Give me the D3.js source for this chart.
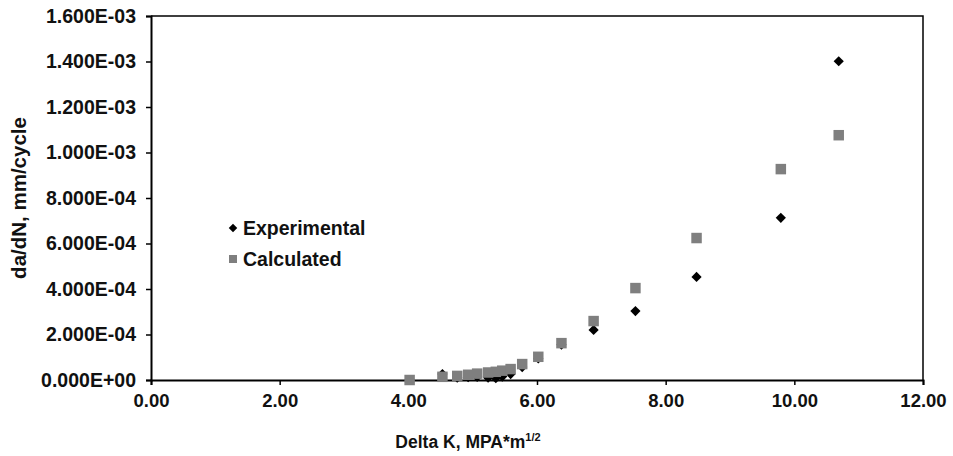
<!DOCTYPE html>
<html>
<head>
<meta charset="utf-8">
<script src="https://cdn.jsdelivr.net/npm/d3@7"></script>
<style>
  html, body { margin: 0; padding: 0; background: #fff; }
  svg { display: block; font-family: Arial, "Liberation Sans", sans-serif; }
</style>
</head>
<body>
<svg id="chart" width="953" height="456"></svg>
<script>
// Stress intensity range, MPa*m^1/2
const deltaK = [4.02, 4.53, 4.76, 4.93, 5.07, 5.24, 5.36, 5.46, 5.59, 5.77, 6.02, 6.38, 6.88, 7.53, 8.48, 9.79, 10.69];
// Crack growth rate, mm/cycle
const experimental = [0, 2.6e-5, 1.0e-5, 1.2e-5, 1.4e-5, 1.0e-5, 8e-6, 1.5e-5, 2.6e-5, 5.7e-5, 9.5e-5, 1.55e-4, 2.2e-4, 3.03e-4, 4.53e-4, 7.13e-4, 1.401e-3];
const calculated   = [0, 1.4e-5, 1.8e-5, 2.3e-5, 2.8e-5, 3.3e-5, 3.6e-5, 4.1e-5, 4.8e-5, 7.0e-5, 1.02e-4, 1.62e-4, 2.59e-4, 4.04e-4, 6.24e-4, 9.27e-4, 1.076e-3];
const xTicks = [0, 2, 4, 6, 8, 10, 12];
const yTicks = [0, 2e-4, 4e-4, 6e-4, 8e-4, 1e-3, 1.2e-3, 1.4e-3, 1.6e-3];
const seriesNames = ["Experimental", "Calculated"];

const svg = d3.select("#chart");
const plotL = 151, plotR = 923, plotT = 16, plotB = 380;

const x = d3.scaleLinear().domain([0, 12]).range([plotL, plotR]);
const y = d3.scaleLinear().domain([0, 1.6e-3]).range([plotB, plotT]);

// scientific label like 1.600E-03
function sci(v) {
  if (v === 0) return "0.000E+00";
  const e = Math.floor(Math.log10(v) + 1e-9);
  const m = v / Math.pow(10, e);
  const sign = e < 0 ? "-" : "+";
  return m.toFixed(3) + "E" + sign + String(Math.abs(e)).padStart(2, "0");
}

// plot frame (top and right edges)
svg.append("path")
  .attr("d", `M${plotL},${plotT}H${plotR}V${plotB}`)
  .attr("fill", "none").attr("stroke", "#000").attr("stroke-width", 1.5);

// y axis
const yAxis = svg.append("g")
  .attr("transform", `translate(${plotL},0)`)
  .call(d3.axisLeft(y).tickValues(yTicks).tickFormat(sci).tickSize(5).tickPadding(10));
yAxis.select(".domain").attr("stroke-width", 2);
yAxis.selectAll(".tick line").attr("stroke-width", 1.5);
yAxis.selectAll(".tick text")
  .attr("font-size", 19.5).attr("font-weight", "bold").attr("fill", "#111")
  .attr("font-family", "Arial, 'Liberation Sans', sans-serif");

// x axis
const xAxis = svg.append("g")
  .attr("transform", `translate(0,${plotB})`)
  .call(d3.axisBottom(x).tickValues(xTicks).tickFormat(d3.format(".2f")).tickSize(5).tickPadding(9));
xAxis.select(".domain").attr("stroke-width", 2);
xAxis.selectAll(".tick line").attr("stroke-width", 1.5);
xAxis.selectAll(".tick text")
  .attr("font-size", 18.5).attr("font-weight", "bold").attr("fill", "#111")
  .attr("font-family", "Arial, 'Liberation Sans', sans-serif");

// axis titles
const xt = svg.append("text")
  .attr("x", 468).attr("y", 448)
  .attr("text-anchor", "middle")
  .attr("font-size", 17.5).attr("font-weight", "bold").attr("fill", "#111");
xt.append("tspan").text("Delta K, MPA*m");
xt.append("tspan").attr("font-size", 11).attr("dy", -7).text("1/2");

svg.append("text")
  .attr("transform", `translate(26,${(plotT + plotB) / 2}) rotate(-90)`)
  .attr("text-anchor", "middle")
  .attr("font-size", 20.5).attr("font-weight", "bold").attr("fill", "#111")
  .text("da/dN, mm/cycle");

// markers
const diamond = d3.symbol().type(d3.symbolSquare).size(52);
const square = d3.symbol().type(d3.symbolSquare).size(110);

svg.append("g").selectAll("path")
  .data(deltaK.map((k, i) => [k, experimental[i]]))
  .join("path")
  .attr("d", diamond)
  .attr("transform", d => `translate(${x(d[0])},${y(d[1])}) rotate(45)`)
  .attr("fill", "#000");

svg.append("g").selectAll("path")
  .data(deltaK.map((k, i) => [k, calculated[i]]))
  .join("path")
  .attr("d", square)
  .attr("transform", d => `translate(${x(d[0])},${y(d[1])})`)
  .attr("fill", "#7f7f7f");

// legend
const legend = svg.append("g");
const legendRows = [
  { name: seriesNames[0], sym: d3.symbol().type(d3.symbolSquare).size(36), rot: 45, fill: "#000", cy: 228 },
  { name: seriesNames[1], sym: d3.symbol().type(d3.symbolSquare).size(64), rot: 0, fill: "#7f7f7f", cy: 259 }
];
legendRows.forEach(r => {
  legend.append("path")
    .attr("d", r.sym)
    .attr("transform", `translate(233,${r.cy}) rotate(${r.rot})`)
    .attr("fill", r.fill);
  legend.append("text")
    .attr("x", 243).attr("y", r.cy + 7)
    .attr("font-size", 19.5).attr("font-weight", "bold").attr("fill", "#111")
    .text(r.name);
});
</script>
</body>
</html>
